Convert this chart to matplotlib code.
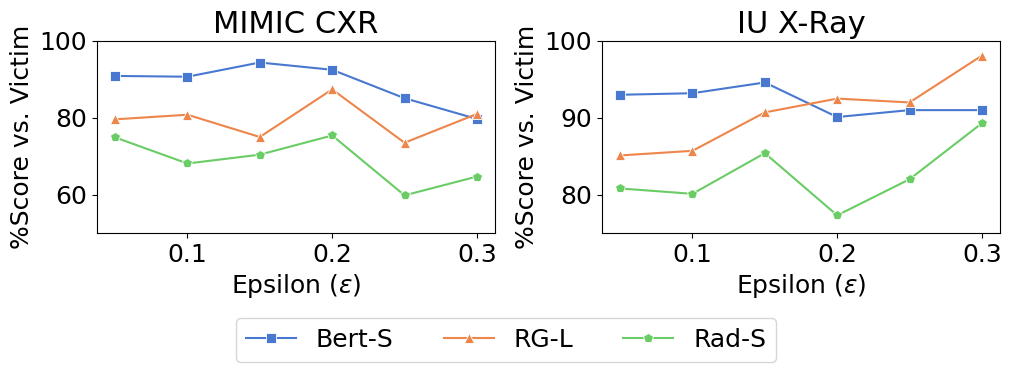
import matplotlib
matplotlib.use("Agg")
import matplotlib.pyplot as plt

eps = [0.05, 0.1, 0.15, 0.2, 0.25, 0.3]
mimic_bert = [90.9, 90.7, 94.4, 92.5, 85.1, 79.7]
mimic_rgl = [79.6, 80.8, 75.0, 87.4, 73.5, 81.0]
mimic_rad = [74.9, 68.1, 70.4, 75.4, 59.8, 64.7]
iu_bert = [93.0, 93.2, 94.6, 90.1, 91.0, 91.0]
iu_rgl = [85.1, 85.7, 90.7, 92.5, 92.0, 98.1]
iu_rad = [80.8, 80.1, 85.4, 77.3, 82.0, 89.3]
series_names = ["Bert-S", "RG-L", "Rad-S"]
colors = ["#4878d0", "#ee854a", "#6acc64"]
markers = ["s", "^", "p"]

plt.rcParams["font.size"] = 18
fig = plt.figure(figsize=(10.11, 3.72), dpi=100)
ax1 = fig.add_axes([97/1011, 1-233/372, 398/1011, 192/372])
ax2 = fig.add_axes([602/1011, 1-233/372, 398/1011, 192/372])

for ax, data, title, ylim, yt in [
    (ax1, [mimic_bert, mimic_rgl, mimic_rad], "MIMIC CXR", (50, 100), [60, 80, 100]),
    (ax2, [iu_bert, iu_rgl, iu_rad], "IU X-Ray", (75, 100), [80, 90, 100]),
]:
    for vals, name, c, m in zip(data, series_names, colors, markers):
        ax.plot(eps, vals, color=c, marker=m, markersize=7, markeredgecolor="white",
                markeredgewidth=0.6, linewidth=1.5, label=name)
    ax.set_title(title, fontsize=22)
    ax.set_ylim(*ylim)
    ax.set_yticks(yt)
    ax.set_xticks([0.1, 0.2, 0.3])
    ax.set_xlabel(r"Epsilon ($\epsilon$)")
    ax.set_ylabel("%Score vs. Victim")

h, l = ax1.get_legend_handles_labels()
fig.legend(h, l, loc="center", bbox_to_anchor=(506/1011, 1-340/372), ncol=3, fontsize=18, columnspacing=2.0)
fig.savefig("out.png", dpi=100)
